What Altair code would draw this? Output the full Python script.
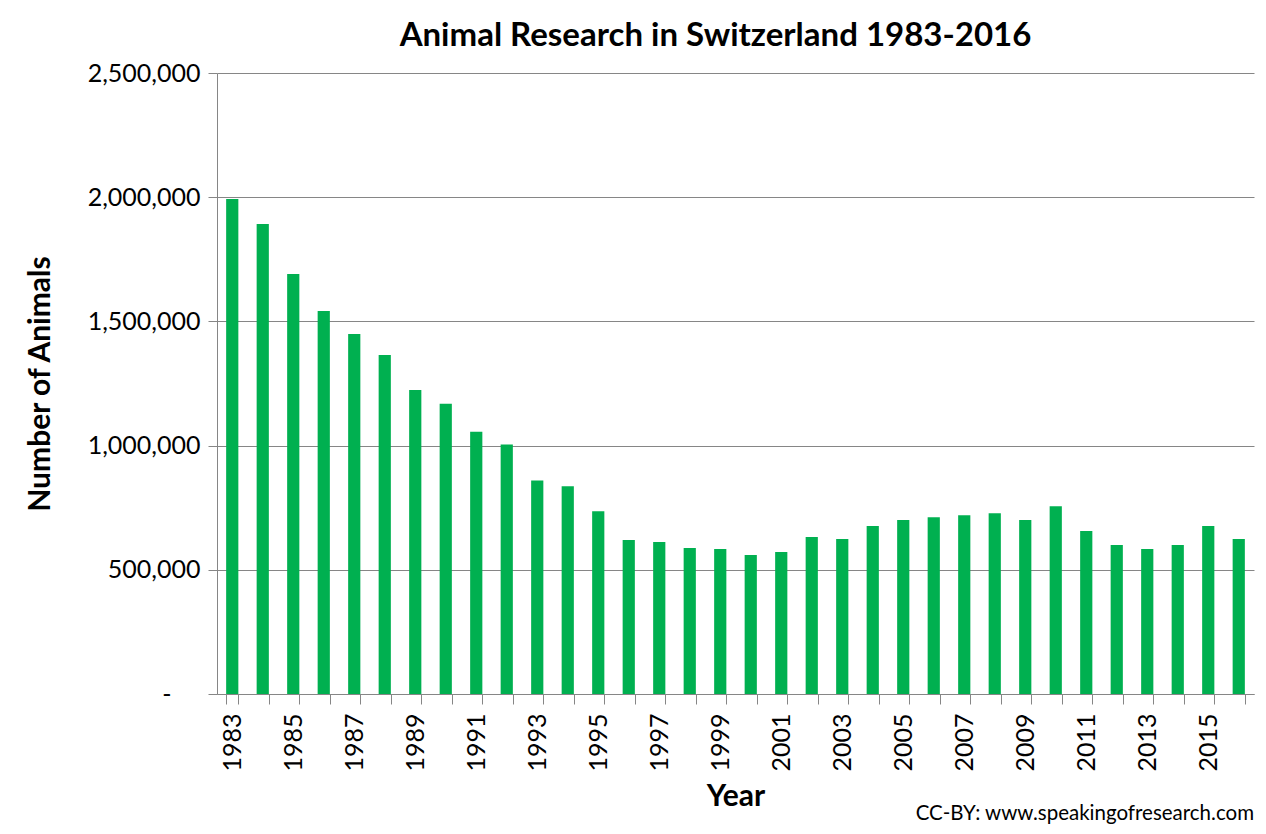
import altair as alt
import pandas as pd

years = [str(y) for y in range(1983, 2017)]
animals = [1993000, 1892000, 1691000, 1542000, 1449000, 1365000, 1224000, 1168000, 1056000, 1004000,
           860000, 836000, 736000, 620000, 612000, 588000, 584000, 560000, 572000, 632000,
           624000, 676000, 700000, 712000, 720000, 728000, 700000, 756000, 656000, 600000,
           584000, 600000, 676000, 624000]
y_ticks = [0, 500000, 1000000, 1500000, 2000000, 2500000]
title_text = "Animal Research in Switzerland 1983-2016"
credit_text = "CC-BY: www.speakingofresearch.com"

df = pd.DataFrame({"Year": years, "Animals": animals})
credit_df = pd.DataFrame({"t": [credit_text]})

W, H = 1037, 621
GRID = "#868686"
FONT = "Lato"

bars = alt.Chart(df).mark_bar(color="#00B050").encode(
    x=alt.X("Year:O",
            scale=alt.Scale(paddingInner=0.6, paddingOuter=0.3),
            axis=alt.Axis(title="Year", labelAngle=270, labelAlign="right", labelBaseline="middle",
                          labelExpr="parseInt(datum.value) % 2 == 1 ? datum.value : ''",
                          labelOverlap=False, tickBand="extent", tickSize=10, tickColor=GRID,
                          domainColor=GRID, labelFontSize=25, labelFont=FONT, labelColor="black",
                          labelPadding=9, titleFontSize=30, titleFont=FONT, titleFontWeight="bold",
                          titleColor="black", titlePadding=10, grid=False)),
    y=alt.Y("Animals:Q",
            scale=alt.Scale(domain=[0, 2500000]),
            axis=alt.Axis(values=y_ticks, title="Number of Animals",
                          labelExpr="datum.value == 0 ? '-' : format(datum.value, ',')",
                          labelFontSize=25, labelFont=FONT, labelColor="black",
                          labelPadding={"condition": {"test": "datum.value == 0", "value": 37}, "value": 8},
                          tickSize=9, tickColor=GRID, domainColor=GRID, gridColor=GRID,
                          titleFontSize=30, titleFont=FONT, titleFontWeight="bold", titleColor="black",
                          titleX=-177, titleY=H / 2, titleAngle=270, titleAlign="center",
                          titleBaseline="middle")),
)

credit = alt.Chart(credit_df).mark_text(align="right", baseline="middle", fontSize=20.5,
                                         font=FONT, color="black").encode(
    text="t:N", x=alt.value(W), y=alt.value(H + 120))

chart = alt.layer(bars, credit).properties(
    width=W, height=H,
    title=alt.TitleParams(title_text, font=FONT, fontSize=33, fontWeight="bold", color="black",
                          anchor="middle", frame="group", dx=-20, offset=8),
    autosize=alt.AutoSizeParams(type="none"),
    padding={"left": 209, "top": 65, "right": 4, "bottom": 136},
).configure_view(strokeOpacity=0)

chart.save("out.html", embed_options={"renderer": "svg", "actions": False})
